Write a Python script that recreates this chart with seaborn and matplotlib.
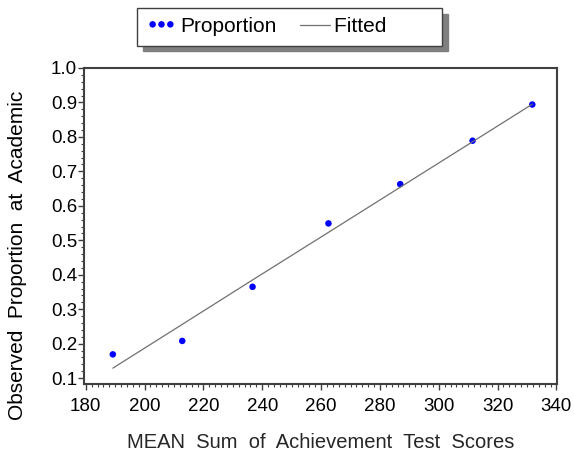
import numpy as np
import matplotlib
matplotlib.use("Agg")
import matplotlib.pyplot as plt
import seaborn as sns
from matplotlib.ticker import MultipleLocator

# данные
mean_score = [189.2, 212.8, 236.7, 262.5, 286.9, 311.5, 331.8]
proportion = [0.169, 0.208, 0.365, 0.549, 0.663, 0.789, 0.894]
fitted = [0.129, 0.256, 0.385, 0.523, 0.654, 0.786, 0.895]

x_ticks = [180, 200, 220, 240, 260, 280, 300, 320, 340]
y_ticks = [0.1, 0.2, 0.3, 0.4, 0.5, 0.6, 0.7, 0.8, 0.9, 1.0]

sns.set_style("ticks")
plt.rcParams['font.family'] = ['Liberation Sans', 'DejaVu Sans']
plt.rcParams['text.color'] = 'black'
plt.rcParams['xtick.labelcolor'] = 'black'
plt.rcParams['ytick.labelcolor'] = 'black'

fig = plt.figure(figsize=(5.74, 4.55), dpi=100)
ax = fig.add_axes([84 / 574, 1 - 384 / 455, (557 - 84) / 574, (384 - 68) / 455])

sns.lineplot(x=mean_score, y=fitted, ax=ax, color='#707070', linewidth=0.9,
             label='Fitted', legend=False)
sns.scatterplot(x=mean_score, y=proportion, ax=ax, color='#0000ff', s=22,
                edgecolor='none', label='Proportion', legend=False)

ax.set_xlim(179.4, 340.2)
ax.set_ylim(0.083, 1.0)
ax.set_xticks(x_ticks)
ax.set_yticks(y_ticks)
ax.set_yticklabels([f'{v:.1f}' for v in y_ticks])
ax.xaxis.set_minor_locator(MultipleLocator(2))
ax.yaxis.set_minor_locator(MultipleLocator(0.02))
ax.tick_params(which='major', length=4, width=1, color='#404040', labelsize=13.5)
ax.tick_params(axis='x', which='major', pad=6)
ax.tick_params(axis='y', which='major', pad=1)
ax.tick_params(which='minor', length=2.5, width=0.8, color='#404040')
for sp in ax.spines.values():
    sp.set_visible(True)
    sp.set_color('#404040')
    sp.set_linewidth(1.5)

ax.set_xlabel('MEAN  Sum  of  Achievement  Test  Scores', fontsize=14.5, labelpad=13)
ax.set_ylabel('')
fig.text(18 / 574, 1 - 255 / 455, 'Observed  Proportion  at  Academic',
         rotation=90, ha='center', va='center', fontsize=15)

# легенда сверху, с тенью
h, l = ax.get_legend_handles_labels()
order = [l.index('Proportion'), l.index('Fitted')]
labels = ['Proportion', 'Fitted' + ' ' * 8]
fig.legend([h[i] for i in order], labels, loc='upper left',
           bbox_to_anchor=(137 / 574, 1 - 8 / 455), borderaxespad=0, ncol=2, fontsize=15,
           scatterpoints=3, scatteryoffsets=[0.55], handlelength=1.45, handletextpad=0.2,
           columnspacing=1.1, frameon=True, fancybox=False, edgecolor='#404040',
           borderpad=0.45,
           shadow={'ox': 4, 'oy': -4, 'color': '#808080', 'alpha': 1})

fig.savefig('out.png', dpi=100)
